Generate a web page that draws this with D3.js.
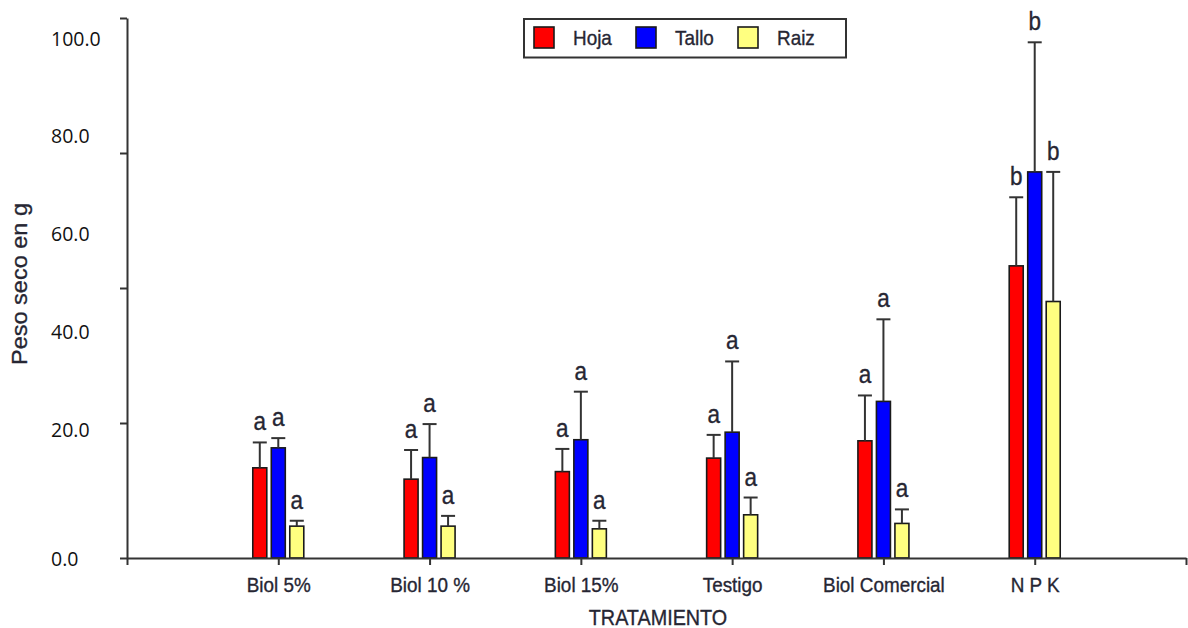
<!DOCTYPE html>
<html>
<head>
<meta charset="utf-8">
<script src="https://cdn.jsdelivr.net/npm/d3@7/dist/d3.min.js"></script>
<style>
  html, body { margin: 0; padding: 0; background: #ffffff; }
  svg { display: block; }
  .lbl { font-family: "Liberation Sans", Arial, sans-serif; fill: #262633; stroke: #262633; stroke-width: 0.35px; }
  .num { font-family: "Open Sans", "Noto Sans", sans-serif; fill: #111111; }
</style>
</head>
<body>
<svg id="chart" width="1188" height="628"></svg>
<script>
// Treatments on the x axis
const categories = ["Biol 5%", "Biol 10 %", "Biol 15%", "Testigo", "Biol Comercial", "N P K"];
// Plant parts (series)
const series = ["Hoja", "Tallo", "Raiz"];
const seriesColors = ["#ff0000", "#0000ff", "#ffff80"];

// Dry weight means (g) and upper error (g) per treatment
const hoja     = [16.7, 14.6, 16.0, 18.5, 21.7, 54.1];
const hojaErr  = [4.7, 5.4, 4.2, 4.3, 8.4, 12.7];
const tallo    = [20.4, 18.6, 21.9, 23.3, 29.0, 71.5];
const talloErr = [1.8, 6.2, 8.9, 13.1, 15.2, 24.0];
const raiz     = [5.9, 5.9, 5.4, 8.0, 6.4, 47.5];
const raizErr  = [1.0, 1.9, 1.5, 3.2, 2.6, 24.0];

// Significance letters per treatment
const letters = ["a", "a", "a", "a", "a", "b"];

// Axis tick marks and the printed value labels
const yTicks = [0, 25, 50, 75, 100];
const yLabels = [0, 20, 40, 60, 80, 100];

const means = [hoja, tallo, raiz];
const errs = [hojaErr, talloErr, raizErr];

const rows = [];
categories.forEach((c, i) => {
  series.forEach((s, j) => {
    rows.push({ ci: i + 1, s, j, v: means[j][i], e: errs[j][i], letter: letters[i] });
  });
});

const svg = d3.select("#chart");
svg.append("rect").attr("width", 1188).attr("height", 628).attr("fill", "#ffffff");

const x = d3.scaleLinear().domain([0, categories.length + 1]).range([127, 1186]);
const y = d3.scaleLinear().domain([0, 100]).range([558, 18]);
const inner = d3.scaleBand().domain(series).range([-25.5, 25.5]).paddingInner(0.243).paddingOuter(0);
const color = d3.scaleOrdinal().domain(series).range(seriesColors);
// placement of the printed y value labels
const yLab = d3.scaleLinear().domain([0, 20, 100]).range([559, 430, 38.5]);

// Bars
svg.append("g").selectAll("rect").data(rows).join("rect")
  .attr("x", d => x(d.ci) + inner(d.s))
  .attr("y", d => y(d.v))
  .attr("width", inner.bandwidth())
  .attr("height", d => y(0) - y(d.v))
  .attr("fill", d => color(d.s))
  .attr("stroke", "#1a1a1a")
  .attr("stroke-width", 1.6);

// Error bars (upper only)
const eb = svg.append("g").attr("stroke", "#333333").attr("stroke-width", 2);
eb.selectAll("line.v").data(rows).join("line").attr("class", "v")
  .attr("x1", d => x(d.ci) + inner(d.s) + inner.bandwidth() / 2)
  .attr("x2", d => x(d.ci) + inner(d.s) + inner.bandwidth() / 2)
  .attr("y1", d => y(d.v))
  .attr("y2", d => y(d.v + d.e));
eb.selectAll("line.c").data(rows).join("line").attr("class", "c")
  .attr("x1", d => x(d.ci) + inner(d.s))
  .attr("x2", d => x(d.ci) + inner(d.s) + inner.bandwidth())
  .attr("y1", d => y(d.v + d.e))
  .attr("y2", d => y(d.v + d.e));

// Significance letters
svg.append("g").selectAll("text").data(rows).join("text")
  .attr("class", "lbl")
  .attr("text-anchor", "middle")
  .attr("font-size", 25)
  .attr("transform", d => `translate(${x(d.ci) + inner(d.s) + inner.bandwidth() / 2},${y(d.v + d.e) - 12}) scale(0.9,1)`)
  .text(d => d.letter);

// Y axis
const yAxis = svg.append("g").attr("transform", `translate(${x(0)},0)`)
  .call(d3.axisLeft(y).tickValues(yTicks).tickFormat("").tickSize(7).tickSizeOuter(0));
yAxis.selectAll("path, line").attr("stroke", "#333333").attr("stroke-width", 2);

svg.append("g").selectAll("text").data(yLabels).join("text")
  .attr("class", "num")
  .attr("x", 51)
  .attr("y", d => yLab(d))
  .attr("dy", "0.36em")
  .attr("font-size", 19.5)
  .text(d => d3.format(".1f")(d));

// X axis
const xAxis = svg.append("g").attr("transform", `translate(0,${y(0)})`)
  .call(d3.axisBottom(x).tickValues(d3.range(0, categories.length + 2))
    .tickFormat(i => categories[i - 1] || "").tickSize(7).tickSizeOuter(0));
xAxis.selectAll("path, line").attr("stroke", "#333333").attr("stroke-width", 2);
xAxis.selectAll("text")
  .attr("class", "lbl")
  .attr("y", 0).attr("dy", 0)
  .attr("font-size", 21)
  .attr("transform", "translate(0,33.5) scale(0.9,1)");

// Axis titles
svg.append("text").attr("class", "lbl")
  .attr("text-anchor", "middle").attr("font-size", 22)
  .attr("transform", "translate(658,625) scale(0.9,1)")
  .text("TRATAMIENTO");
svg.append("text").attr("class", "lbl")
  .attr("text-anchor", "middle").attr("font-size", 23.5)
  .attr("transform", "translate(27,284) rotate(-90) scale(1,0.9)")
  .text("Peso seco en g");

// Legend
const lg = svg.append("g");
lg.append("rect").attr("x", 524).attr("y", 19).attr("width", 322).attr("height", 38.5)
  .attr("fill", "#ffffff").attr("stroke", "#333333").attr("stroke-width", 2);
const items = lg.selectAll("g.item").data(series).join("g").attr("class", "item")
  .attr("transform", (d, i) => `translate(${534 + i * 102},0)`);
items.append("rect").attr("x", 0).attr("y", 27).attr("width", 20).attr("height", 21)
  .attr("fill", d => color(d)).attr("stroke", "#1a1a1a").attr("stroke-width", 1.6);
items.append("text").attr("class", "lbl").attr("font-size", 21)
  .attr("transform", "translate(39,45) scale(0.9,1)")
  .text(d => d);
</script>
</body>
</html>
